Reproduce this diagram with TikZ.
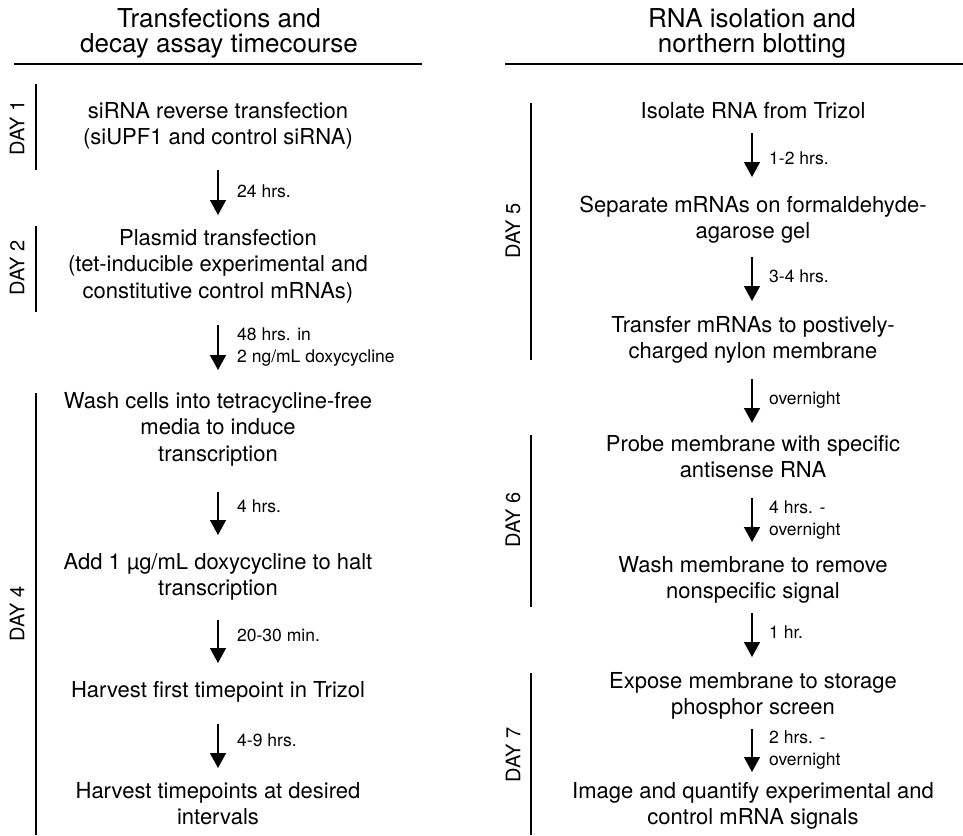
\documentclass[tikz,border=0pt]{standalone}
\usepackage{fontspec}
\setmainfont{TeX Gyre Heros}
\usetikzlibrary{arrows.meta}
\newcommand\hsb{\rule{0pt}{18pt}}
\newcommand\hst{\rule{0pt}{21pt}}
\newcommand\hsl{\rule{0pt}{14pt}}
\tikzset{
  body/.style={font=\fontsize{22}{26.5}\selectfont, align=center, inner sep=0pt, anchor=north},
  ttl/.style={font=\fontsize{26}{25.5}\selectfont, align=center, inner sep=0pt, anchor=north},
  lbl/.style={font=\fontsize{17.5}{22}\selectfont, align=left, inner sep=0pt, anchor=north west},
  day/.style={font=\fontsize{20}{24}\selectfont, rotate=90, inner sep=0pt},
  flow/.style={line width=1.5pt, -{Triangle[width=16pt,length=15pt]}},
  bar/.style={line width=1.8pt},
  rul/.style={line width=1.8pt}
}
\begin{document}
\begin{tikzpicture}[x=1pt,y=-1pt]
\useasboundingbox (0,0) rectangle (963,835);
% titles
\node[ttl] (lt) at (219,6) {\hst Transfections and\\decay assay timecourse};
\node[ttl] (rt) at (752,6) {\hst RNA isolation and\\northern blotting};
\coordinate (lr1) at (14,64); \coordinate (lr2) at (422,64);
\coordinate (rr1) at (505,64); \coordinate (rr2) at (963,64);
\draw[rul] (lr1) -- (lr2);
\draw[rul] (rr1) -- (rr2);
% left column text
\node[body] (t1) at (218,100) {\hsb siRNA reverse transfection\\(siUPF1 and control siRNA)};
\node[body] (t2) at (218,227) {\hsb Plasmid transfection\\(tet-inducible experimental and\\constitutive control mRNAs)};
\node[body] (t3) at (218,390) {\hsb Wash cells into tetracycline-free\\media to induce\\transcription};
\node[body] (t4) at (218,551) {\hsb Add 1 µg/mL doxycycline to halt\\transcription};
\node[body] (t5) at (218,679) {\hsb Harvest first timepoint in Trizol};
\node[body] (t6) at (218,780) {\hsb Harvest timepoints at desired\\intervals};
% right column text
\node[body] (r1) at (753,100) {\hsb Isolate RNA from Trizol};
\node[body] (r2) at (753,194) {\hsb Separate mRNAs on formaldehyde-\\agarose gel};
\node[body] (r3) at (753,314) {\hsb Transfer mRNAs to postively-\\charged nylon membrane};
\node[body] (r4) at (753,433) {\hsb Probe membrane with specific\\antisense RNA};
\node[body] (r5) at (753,554) {\hsb Wash membrane to remove\\nonspecific signal};
\node[body] (r6) at (753,670) {\hsb Expose membrane to storage\\phosphor screen};
\node[body] (r7) at (753,780) {\hsb Image and quantify experimental and\\control mRNA signals};
% left arrows
\coordinate (a1s) at (218,170); \coordinate (a1e) at (218,215);
\coordinate (a2s) at (218,325); \coordinate (a2e) at (218,370);
\coordinate (a3s) at (218,492); \coordinate (a3e) at (218,535);
\coordinate (a4s) at (218,620); \coordinate (a4e) at (218,663);
\coordinate (a5s) at (218,724); \coordinate (a5e) at (218,768);
\foreach \i in {1,...,5} {\draw[flow] (a\i s) -- (a\i e);}
% right arrows
\coordinate (b1s) at (752,133); \coordinate (b1e) at (752,177);
\coordinate (b2s) at (752,257); \coordinate (b2e) at (752,301);
\coordinate (b3s) at (752,379); \coordinate (b3e) at (752,423);
\coordinate (b4s) at (752,498); \coordinate (b4e) at (752,542);
\coordinate (b5s) at (752,613); \coordinate (b5e) at (752,657);
\coordinate (b6s) at (752,729); \coordinate (b6e) at (752,772);
\foreach \i in {1,...,6} {\draw[flow] (b\i s) -- (b\i e);}
% arrow labels
\node[lbl] (l1) at (237,183) {\hsl 24 hrs.};
\node[lbl] (l2) at (237,326) {\hsl 48 hrs. in\\2 ng/mL doxycycline};
\node[lbl] (l3) at (237,498) {\hsl 4 hrs.};
\node[lbl] (l4) at (237,627) {\hsl 20-30 min.};
\node[lbl] (l5) at (237,732) {\hsl 4-9 hrs.};
\node[lbl] (m1) at (769,150) {\hsl 1-2 hrs.};
\node[lbl] (m2) at (769,268) {\hsl 3-4 hrs.};
\node[lbl] (m3) at (769,390) {\hsl overnight};
\node[lbl] (m4) at (769,499) {\hsl 4 hrs. -\\overnight};
\node[lbl] (m5) at (769,624) {\hsl 1 hr.};
\node[lbl] (m6) at (769,729) {\hsl 2 hrs. -\\overnight};
% day bars
\coordinate (d1a) at (36,84);  \coordinate (d1b) at (36,170);
\coordinate (d2a) at (36,226); \coordinate (d2b) at (36,312);
\coordinate (d4a) at (36,393); \coordinate (d4b) at (36,835);
\coordinate (d5a) at (531,103); \coordinate (d5b) at (531,360);
\coordinate (d6a) at (531,435); \coordinate (d6b) at (531,607);
\coordinate (d7a) at (531,673); \coordinate (d7b) at (531,835);
\foreach \i in {1,2,4,5,6,7} {\draw[bar] (d\i a) -- (d\i b);}
% day labels
\node[day] (day1) at (17,128) {DAY 1};
\node[day] (day2) at (17,268) {DAY 2};
\node[day] (day4) at (17,614) {DAY 4};
\node[day] (day5) at (513,231) {DAY 5};
\node[day] (day6) at (513,520) {DAY 6};
\node[day] (day7) at (513,755) {DAY 7};
\end{tikzpicture}
\end{document}
